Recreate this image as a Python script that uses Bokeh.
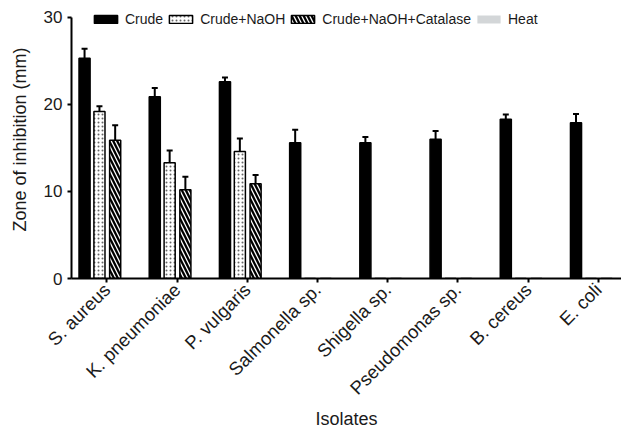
import numpy as np
from bokeh.plotting import figure
from bokeh.models import (Range1d, ColumnDataSource, Whisker, TeeHead, Legend,
                          LegendItem, FixedTicker)
from bokeh.embed import file_html
from bokeh.resources import INLINE
from math import pi

# ---- data ----
isolates = ["S. aureus", "K. pneumoniae", "P. vulgaris", "Salmonella sp.",
            "Shigella sp.", "Pseudomonas sp.", "B. cereus", "E. coli"]
series = ["Crude", "Crude+NaOH", "Crude+NaOH+Catalase", "Heat"]
crude = [25.3, 20.9, 22.6, 15.6, 15.6, 16.0, 18.3, 17.9]
crude_err = [1.1, 1.0, 0.5, 1.5, 0.65, 0.95, 0.55, 1.0]
naoh = [19.2, 13.3, 14.6, 0, 0, 0, 0, 0]
naoh_err = [0.6, 1.4, 1.5, 0, 0, 0, 0, 0]
catalase = [15.9, 10.2, 10.9, 0, 0, 0, 0, 0]
catalase_err = [1.7, 1.5, 1.0, 0, 0, 0, 0, 0]
heat = [0, 0, 0, 0, 0, 0, 0, 0]
heat_err = [0, 0, 0, 0, 0, 0, 0, 0]
y_ticks = [0, 10, 20, 30]

values = [crude, naoh, catalase, heat]
errors = [crude_err, naoh_err, catalase_err, heat_err]

# ---- style ----
FONT = "Liberation Sans"
offsets = [-0.318, -0.106, 0.118, 0.33]
bar_w = 0.158
styles = [
    dict(fill_color="black", line_color="black"),
    dict(fill_color="white", line_color="black", hatch_pattern=".",
         hatch_color="#666666", hatch_scale=4, hatch_weight=1),
    dict(fill_color="white", line_color="black", hatch_pattern="\\",
         hatch_color="black", hatch_scale=8, hatch_weight=2.3),
    dict(fill_color="#d3d6d8", line_color=None),
]

y_top = 30 + 17 * 30 / 262.0   # frame reaches to the top of the canvas

p = figure(width=621, height=432, output_backend="svg", toolbar_location=None,
           x_range=Range1d(-0.504, 7.33), y_range=Range1d(0, y_top),
           min_border_left=71, min_border_right=0, min_border_top=0,
           min_border_bottom=153)
p.outline_line_color = None
p.xgrid.visible = False
p.ygrid.visible = False
p.background_fill_color = "white"
p.border_fill_color = "white"

idx = np.arange(len(isolates))
renderers = []
for k, name in enumerate(series):
    v = np.array(values[k], dtype=float)
    e = np.array(errors[k], dtype=float)
    src = ColumnDataSource(dict(x=idx + offsets[k], top=v))
    r = p.vbar(x="x", top="top", width=bar_w, bottom=0, source=src,
               line_width=1.5, **styles[k])
    renderers.append(r)
    mask = e > 0
    if mask.any():
        wsrc = ColumnDataSource(dict(x=(idx + offsets[k])[mask], lower=v[mask],
                                     upper=(v + e)[mask]))
        w = Whisker(source=wsrc, base="x", lower="lower", upper="upper",
                    dimension="height", line_width=2, line_color="black",
                    upper_head=TeeHead(size=6, line_width=2, line_color="black"),
                    lower_head=None)
        p.add_layout(w)

legend = Legend(items=[LegendItem(label=s, renderers=[r]) for s, r in zip(series, renderers)],
                orientation="horizontal", location=(20, 251),
                padding=0, margin=0, spacing=3, label_standoff=5,
                glyph_width=29, glyph_height=10,
                background_fill_alpha=0, border_line_color=None,
                label_text_font=FONT, label_text_font_size="14px",
                label_text_color="#1a1a1a")
p.add_layout(legend, "center")

# axes
p.xaxis.ticker = FixedTicker(ticks=list(range(len(isolates))))
p.xaxis.major_label_overrides = {i: s for i, s in enumerate(isolates)}
p.xaxis.major_label_orientation = pi / 4
p.yaxis.ticker = FixedTicker(ticks=y_ticks)
p.yaxis.bounds = (0, 30)
for ax in (p.xaxis[0], p.yaxis[0]):
    ax.axis_line_width = 2
    ax.axis_line_color = "black"
    ax.major_tick_line_width = 2
    ax.major_tick_line_color = "black"
    ax.major_tick_out = 4
    ax.major_tick_in = 0
    ax.minor_tick_out = 0
    ax.minor_tick_in = 0
    ax.major_label_text_font = FONT
    ax.major_label_text_color = "#1a1a1a"
    ax.axis_label_text_font = FONT
    ax.axis_label_text_font_size = "18px"
    ax.axis_label_text_font_style = "normal"
    ax.axis_label_text_color = "#1a1a1a"
    ax.major_label_standoff = 5
p.yaxis.major_label_text_font_size = "17px"
p.xaxis.major_label_text_font_size = "18.5px"
p.xaxis.major_label_standoff = 4

p.xaxis.axis_label = "Isolates"
p.yaxis.axis_label = "Zone of inhibition (mm)"
p.yaxis.axis_label_standoff = 11
p.xaxis.axis_label_standoff = 0

open("out.html", "w").write(file_html(p, INLINE))
